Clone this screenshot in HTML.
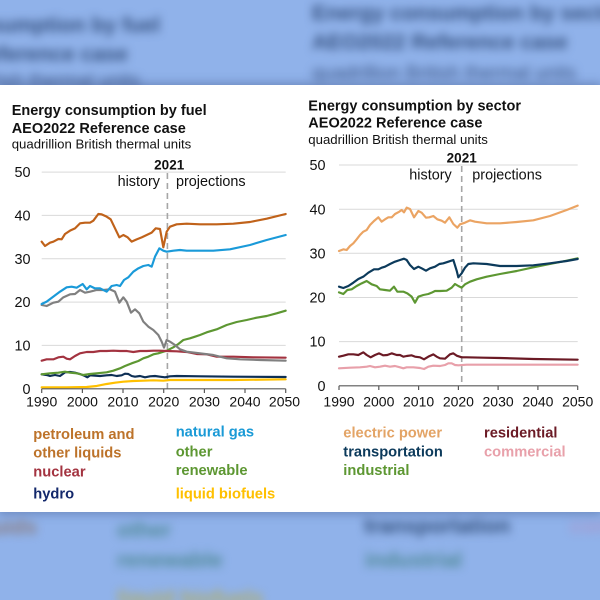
<!DOCTYPE html>
<html>
<head>
<meta charset="utf-8">
<style>
  html, body { margin:0; padding:0; }
  body { width:600px; height:600px; position:relative; overflow:hidden; background:#90b2ea; font-family:"Liberation Sans", Arial, sans-serif; }
  .clip { position:absolute; left:0; top:0; width:600px; height:600px; overflow:hidden; }
  .bg { position:absolute; left:0; top:0; width:600px; height:600px; filter:blur(4.5px); }
  .bg span { position:absolute; white-space:nowrap; line-height:21px; }
  .bt { font-weight:bold; font-size:21.3px; color:#34507f; }
  .bs { font-size:19.4px; color:#3c5686; }
  .bl { font-weight:bold; font-size:21.6px; }
  .band { position:absolute; left:0; top:85px; width:600px; height:427px; background:#fff; box-shadow:0 0 9px 2px rgba(40,60,110,0.35); }
  svg { position:absolute; left:0; top:0; }
</style>
</head>
<body>
<div class="clip">
<div class="bg">
  <span class="bt" style="right:440px; top:15px;">Energy consumption by fuel</span>
  <span class="bt" style="right:472px; top:44px;">AEO2022 Reference case</span>
  <span class="bs" style="right:460px; top:71px;">quadrillion British thermal units</span>
  <span class="bt" style="left:312px; top:3px;">Energy consumption by sector</span>
  <span class="bt" style="left:312px; top:32px;">AEO2022 Reference case</span>
  <span class="bs" style="left:312px; top:63px;">quadrillion British thermal units</span>

  <span class="bl" style="right:563px; top:516px; color:#8a7c80;">other liquids</span>
  <span class="bl" style="left:117px; top:519px; color:#4f8a96;">other</span>
  <span class="bl" style="left:117px; top:549px; color:#4f8a96;">renewable</span>
  <span class="bl" style="left:117px; top:587px; color:#b0ad6a;">liquid biofuels</span>
  <span class="bl" style="left:364px; top:515px; color:#314e7a;">transportation</span>
  <span class="bl" style="left:365px; top:549px; color:#4f8a96;">industrial</span>
  <span class="bl" style="left:570px; top:515px; color:#a59bd0;">commercial</span>
</div>
</div>

<div class="band"></div>

<svg width="600" height="600" viewBox="0 0 600 600" xmlns="http://www.w3.org/2000/svg" font-family="Liberation Sans, Arial, sans-serif">
  <!-- LEFT CHART -->
  <text x="11.7" y="115" font-size="14.5" font-weight="bold" fill="#111">Energy consumption by fuel</text>
  <text x="11.7" y="133" font-size="14.5" font-weight="bold" fill="#111">AEO2022 Reference case</text>
  <text x="11.7" y="148.3" font-size="13.2" fill="#111">quadrillion British thermal units</text>

  <g stroke="#d9d9d9" stroke-width="1">
    <line x1="41.7" y1="172.1" x2="285.7" y2="172.1"/>
    <line x1="41.7" y1="215.4" x2="285.7" y2="215.4"/>
    <line x1="41.7" y1="258.7" x2="285.7" y2="258.7"/>
    <line x1="41.7" y1="302.1" x2="285.7" y2="302.1"/>
    <line x1="41.7" y1="345.4" x2="285.7" y2="345.4"/>
  </g>
  <g font-size="14.4" fill="#111" text-anchor="end">
    <text x="30.5" y="177.2">50</text>
    <text x="30.5" y="220.5">40</text>
    <text x="30.5" y="263.8">30</text>
    <text x="30.5" y="307.2">20</text>
    <text x="30.5" y="350.5">10</text>
    <text x="30.5" y="393.9">0</text>
  </g>

  <text x="169.2" y="169.3" font-size="13.5" font-weight="bold" fill="#111" text-anchor="middle">2021</text>
  <text x="160" y="186" font-size="14.4" fill="#111" text-anchor="end">history</text>
  <text x="176" y="186" font-size="14.4" fill="#111">projections</text>
  <line x1="167.4" y1="173" x2="167.4" y2="388.8" stroke="#a6a6a6" stroke-width="1.6" stroke-dasharray="6,4"/>

  <g transform="translate(0,160) scale(0.333333)" fill="none" stroke-width="6.5" stroke-linejoin="round" stroke-linecap="round">
    <polyline stroke="#ffc000" points="125,682 200,682 260,681 290,678 320,672 345,668 370,665 400,663 430,662 460,661 490,662 510,660 600,660 700,660 857,658"/>
    <polyline stroke="#0d2f55" points="125,643 140,645 150,648 165,645 180,648 195,637 210,636 225,638 240,642 255,648 262,652 270,646 285,647 300,648 320,646 335,645 350,648 365,646 375,641 385,642 395,648 405,650 420,648 435,652 450,649 465,648 480,650 495,652 510,649 530,648 600,649 700,650 857,651"/>
    <polyline stroke="#5d9732" points="125,643 150,640 175,638 195,635 210,638 230,640 250,645 270,642 290,640 320,637 340,632 360,625 375,618 395,610 415,603 430,595 445,590 460,583 475,580 490,575 500,572 520,562 535,552 550,540 570,535 585,530 600,525 620,517 650,508 680,495 710,486 740,480 770,473 800,468 830,460 857,452"/>
    <polyline stroke="#a33340" points="125,602 140,598 160,598 175,592 190,590 200,596 210,598 225,588 240,580 260,576 280,576 300,573 320,573 340,572 360,573 380,573 400,576 420,573 440,573 460,572 480,572 500,573 530,574 560,576 590,582 620,583 650,590 700,590 760,592 857,593"/>
    <polyline stroke="#808080" points="125,435 140,438 160,428 175,425 190,412 210,403 225,402 240,390 255,398 270,395 290,390 310,390 330,388 345,395 358,428 370,412 380,425 393,458 405,448 418,460 430,485 445,500 460,510 475,525 485,545 492,563 500,540 510,545 525,555 540,568 560,575 600,580 640,585 680,595 720,598 780,600 857,602"/>
    <polyline stroke="#1a9ad9" points="125,432 140,425 160,410 180,395 200,382 215,380 230,383 248,372 260,388 270,378 285,385 300,385 320,395 335,378 350,375 360,378 372,360 385,352 400,335 415,325 430,318 445,315 455,320 465,290 478,265 490,272 500,275 520,272 540,270 560,272 600,272 640,272 690,268 750,255 800,240 857,225"/>
    <polyline stroke="#c0621a" points="125,245 135,258 150,248 160,245 175,237 185,238 195,222 210,212 225,205 240,190 255,188 270,188 280,182 295,162 305,163 320,170 332,178 345,205 358,232 370,225 383,232 395,245 410,238 425,232 440,225 455,218 467,205 480,207 490,262 500,215 510,200 530,193 560,191 600,193 650,193 700,191 750,186 800,176 857,162"/>
  </g>

  <line x1="41.7" y1="388.8" x2="285.7" y2="388.8" stroke="#595959" stroke-width="1.2"/>
  <g stroke="#595959" stroke-width="1.2">
    <line x1="41.7" y1="388.8" x2="41.7" y2="393"/>
    <line x1="82.4" y1="388.8" x2="82.4" y2="393"/>
    <line x1="123.0" y1="388.8" x2="123.0" y2="393"/>
    <line x1="163.7" y1="388.8" x2="163.7" y2="393"/>
    <line x1="204.4" y1="388.8" x2="204.4" y2="393"/>
    <line x1="245.0" y1="388.8" x2="245.0" y2="393"/>
    <line x1="285.7" y1="388.8" x2="285.7" y2="393"/>
  </g>
  <g font-size="14" fill="#111" text-anchor="middle">
    <text x="41.7" y="406.7">1990</text>
    <text x="82.4" y="406.7">2000</text>
    <text x="123.0" y="406.7">2010</text>
    <text x="163.7" y="406.7">2020</text>
    <text x="204.4" y="406.7">2030</text>
    <text x="245.0" y="406.7">2040</text>
    <text x="284.5" y="406.7">2050</text>
  </g>

  <g font-size="14.7" font-weight="bold">
    <text x="33.3" y="439" fill="#bd732a">petroleum and</text>
    <text x="33.3" y="457.7" fill="#bd732a">other liquids</text>
    <text x="33.3" y="476.5" fill="#a33340">nuclear</text>
    <text x="33.3" y="498.7" fill="#13286b">hydro</text>
    <text x="175.7" y="436.7" fill="#1a9ad6">natural gas</text>
    <text x="175.7" y="456.7" fill="#5d9732">other</text>
    <text x="175.7" y="475" fill="#5d9732">renewable</text>
    <text x="175.7" y="498.3" fill="#ffc000">liquid biofuels</text>
  </g>

  <!-- RIGHT CHART -->
  <text x="308.3" y="110.7" font-size="14.5" font-weight="bold" fill="#111">Energy consumption by sector</text>
  <text x="308.3" y="127.7" font-size="14.5" font-weight="bold" fill="#111">AEO2022 Reference case</text>
  <text x="308.3" y="144" font-size="13.2" fill="#111">quadrillion British thermal units</text>

  <g stroke="#d9d9d9" stroke-width="1">
    <line x1="339" y1="165" x2="577.7" y2="165"/>
    <line x1="339" y1="209.2" x2="577.7" y2="209.2"/>
    <line x1="339" y1="253.3" x2="577.7" y2="253.3"/>
    <line x1="339" y1="297.5" x2="577.7" y2="297.5"/>
    <line x1="339" y1="341.6" x2="577.7" y2="341.6"/>
  </g>
  <g font-size="14.4" fill="#111" text-anchor="end">
    <text x="325.5" y="170.1">50</text>
    <text x="325.5" y="214.3">40</text>
    <text x="325.5" y="258.4">30</text>
    <text x="325.5" y="302.6">20</text>
    <text x="325.5" y="346.7">10</text>
    <text x="325.5" y="390.9">0</text>
  </g>

  <text x="461.7" y="162.7" font-size="13.5" font-weight="bold" fill="#111" text-anchor="middle">2021</text>
  <text x="451.7" y="179.3" font-size="14.4" fill="#111" text-anchor="end">history</text>
  <text x="472.3" y="179.3" font-size="14.4" fill="#111">projections</text>
  <line x1="461.7" y1="166" x2="461.7" y2="385.8" stroke="#a6a6a6" stroke-width="1.6" stroke-dasharray="6,4"/>

  <g transform="translate(300,160) scale(0.333333)" fill="none" stroke-width="6.5" stroke-linejoin="round" stroke-linecap="round">
    <polyline stroke="#e8a0aa" points="117,625 150,623 180,622 200,620 210,618 225,622 240,620 255,617 270,620 285,618 300,622 310,625 320,622 340,622 360,624 372,627 385,620 400,617 420,618 435,615 445,610 455,610 465,615 475,616 500,614 550,614 650,614 833,614"/>
    <polyline stroke="#6b1a25" points="117,590 130,587 145,583 160,583 175,585 190,577 200,585 212,592 225,585 237,580 250,586 262,585 275,580 290,585 300,585 310,590 320,588 335,586 345,590 360,592 372,598 385,590 400,583 410,590 420,595 435,596 450,583 460,580 470,587 485,592 500,592 550,593 600,594 700,597 833,599"/>
    <polyline stroke="#5d9732" points="117,397 130,402 142,390 155,388 170,378 185,370 200,363 215,373 230,378 240,388 255,390 270,392 282,380 292,395 310,395 322,400 335,410 345,428 355,410 370,405 385,402 395,398 405,393 420,393 440,392 455,383 465,372 475,378 485,383 495,373 510,365 530,358 560,350 600,342 650,333 700,322 750,312 800,302 833,295"/>
    <polyline stroke="#0c3a5b" points="117,380 130,384 145,378 160,368 175,357 190,350 205,338 222,328 235,328 245,323 255,320 270,312 285,305 300,300 312,296 320,300 330,315 342,327 355,320 365,325 378,332 390,325 405,320 418,312 430,310 445,305 460,300 470,332 475,352 485,340 495,323 505,312 520,310 560,312 600,318 650,318 700,316 750,310 800,303 833,297"/>
    <polyline stroke="#eba463" points="117,273 130,268 140,270 150,258 160,250 170,238 180,225 190,215 200,210 210,195 222,183 235,172 245,185 255,178 265,172 275,172 285,162 298,155 305,150 312,157 320,143 330,147 342,172 355,153 365,158 378,173 388,172 400,168 412,178 425,182 435,188 448,172 460,192 472,203 480,193 495,188 510,181 525,185 560,190 600,190 650,186 700,181 750,168 800,150 833,137"/>
  </g>

  <line x1="339" y1="385.8" x2="577.7" y2="385.8" stroke="#595959" stroke-width="1.2"/>
  <g stroke="#595959" stroke-width="1.2">
    <line x1="339" y1="385.8" x2="339" y2="390"/>
    <line x1="378.8" y1="385.8" x2="378.8" y2="390"/>
    <line x1="418.6" y1="385.8" x2="418.6" y2="390"/>
    <line x1="458.4" y1="385.8" x2="458.4" y2="390"/>
    <line x1="498.1" y1="385.8" x2="498.1" y2="390"/>
    <line x1="537.9" y1="385.8" x2="537.9" y2="390"/>
    <line x1="577.7" y1="385.8" x2="577.7" y2="390"/>
  </g>
  <g font-size="14" fill="#111" text-anchor="middle">
    <text x="339" y="406.7">1990</text>
    <text x="378.8" y="406.7">2000</text>
    <text x="418.6" y="406.7">2010</text>
    <text x="458.4" y="406.7">2020</text>
    <text x="498.1" y="406.7">2030</text>
    <text x="537.9" y="406.7">2040</text>
    <text x="577.7" y="406.7">2050</text>
  </g>

  <g font-size="14.7" font-weight="bold">
    <text x="343.3" y="437.3" fill="#e3a466">electric power</text>
    <text x="343.3" y="456.7" fill="#0c3a5b">transportation</text>
    <text x="343.3" y="475" fill="#5d9732">industrial</text>
    <text x="484" y="437.3" fill="#6b1a25">residential</text>
    <text x="484" y="456.7" fill="#e8a0aa">commercial</text>
  </g>
</svg>
</body>
</html>
